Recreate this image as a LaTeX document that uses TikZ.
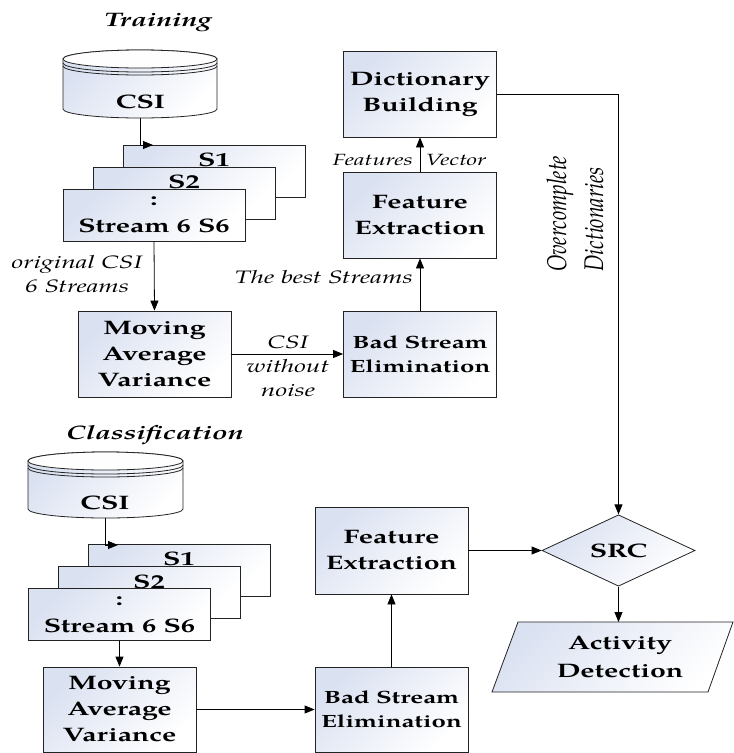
\documentclass[tikz,border=0pt]{standalone}
\usepackage{fontspec}
\setmainfont{texgyrepagella}[Extension=.otf, UprightFont=*-regular, BoldFont=*-bold, ItalicFont=*-italic, BoldItalicFont=*-bolditalic, FakeStretch=1.46]
\newfontfamily\condit{texgyrepagella-italic}[Extension=.otf, FakeStretch=0.78]
\usetikzlibrary{arrows.meta, shapes.geometric}
\definecolor{fillc}{RGB}{218,225,241}
\definecolor{edgec}{RGB}{35,35,35}
\newcommand\mybf{\bfseries\fontsize{19.5}{26}\selectfont}
\newcommand\mysmbf{\bfseries\fontsize{17.7}{24}\selectfont}
\newcommand\myit{\itshape\fontsize{18}{24}\selectfont}
\newcommand\mysmit{\itshape\fontsize{16.2}{22}\selectfont}
\newcommand\mytitle{\bfseries\itshape\fontsize{19.5}{24}\selectfont}
\begin{document}
\begin{tikzpicture}[x=1pt, y=-1pt,
  shadefill/.style={top color=fillc, bottom color=white, shading angle=45},
  box/.style={draw=edgec, line width=0.8pt, shadefill, align=center, inner sep=0pt, font=\mybf, minimum width=153pt, minimum height=86pt},
  stk/.style={draw=edgec, line width=0.8pt, shadefill, align=center, inner sep=0pt, font=\mybf, minimum width=182pt, minimum height=52pt},
  arr/.style={-{Triangle[length=10pt,width=8pt]}, line width=0.8pt, draw=black},
  lbl/.style={font=\myit, align=center, inner sep=0pt},
  ttl/.style={font=\mytitle, inner sep=0pt, anchor=base},
  stxt/.style={font=\mybf, inner sep=0pt, anchor=base}]
\useasboundingbox (0,0) rectangle (734,753);

% ---------------- Training ----------------
\node[ttl] (t1) at (158,26) {Training};

% cylinder
\path[shadefill, draw=edgec, line width=0.8pt] (63,59) -- (63,109) arc[start angle=180, end angle=360, x radius=77pt, y radius=9pt] -- (217,59) arc[start angle=0, end angle=180, x radius=77pt, y radius=9pt] -- cycle;
\draw[edgec, line width=0.8pt, fill=white!96!fillc] (140,59) ellipse [x radius=77pt, y radius=9pt];
\draw[edgec, line width=0.8pt] (63,63) arc[start angle=180, end angle=360, x radius=77pt, y radius=9pt];
\draw[edgec, line width=0.8pt] (63,66) arc[start angle=180, end angle=360, x radius=77pt, y radius=9pt];
\node[stxt] (csi1) at (140.5,108) {CSI};
\coordinate (csi1b) at (140,118);
\coordinate (s1tip) at (153,145);

% stacked streams
\node[stk] (s1a) at (214,171) {};
\node[stxt] (s1at) at (214,166) {S1};
\node[stk] (s1b) at (184,193) {};
\node[stxt] (s1bt) at (184,188) {S2};
\node[stk, font=\fontsize{19.5}{27}\bfseries\selectfont] (st1) at (154,215) {:\\Stream 6 S6};

\node[box] (mav1) at (154.5,354) {Moving\\Average\\Variance};
\node[box, font=\mysmbf] (bse1) at (420,354) {Bad Stream\\Elimination};
\node[box] (fe1) at (420,215) {Feature\\Extraction};
\node[box] (db1) at (420,94) {Dictionary\\Building};

\draw[arr] (csi1b) |- (s1tip);
\draw[arr] (st1.south) -- (mav1.north);
\draw[arr] (mav1.east) -- (bse1.west);
\draw[arr] (bse1.north) -- (fe1.south);
\draw[arr] (fe1.north) -- (db1.south);

\node[lbl] (l1) at (77,274) {original CSI\\6 Streams};
\node[lbl] (l2) at (288,366) {CSI\\without\\noise};
\node[lbl, anchor=base east] (l3) at (413,283) {The best Streams};
\node[lbl, font=\mysmit, anchor=base] (l4) at (409.5,165) {Features\hskip13pt Vector};

% ---------------- Classification ----------------
\node[ttl] (t2) at (155,439) {Classification};

\path[shadefill, draw=edgec, line width=0.8pt] (28,461) -- (28,509) arc[start angle=180, end angle=360, x radius=77.5pt, y radius=9pt] -- (183,461) arc[start angle=0, end angle=180, x radius=77.5pt, y radius=9pt] -- cycle;
\draw[edgec, line width=0.8pt, fill=white!96!fillc] (105.5,461) ellipse [x radius=77.5pt, y radius=9pt];
\draw[edgec, line width=0.8pt] (28,465) arc[start angle=180, end angle=360, x radius=77.5pt, y radius=9pt];
\draw[edgec, line width=0.8pt] (28,468) arc[start angle=180, end angle=360, x radius=77.5pt, y radius=9pt];
\node[stxt] (csi2) at (105,509) {CSI};
\coordinate (csi2b) at (105,518);
\coordinate (s2tip) at (118,545);

\node[stk] (s2a) at (179,570.5) {};
\node[stxt] (s2at) at (179,565) {S1};
\node[stk] (s2b) at (149,592.5) {};
\node[stxt] (s2bt) at (149,588) {S2};
\node[stk, font=\fontsize{19.5}{27}\bfseries\selectfont] (st2) at (119.5,614.5) {:\\Stream 6 S6};

\node[box, minimum height=85pt] (mav2) at (119.5,709.5) {Moving\\Average\\Variance};
\node[box, minimum height=85pt, font=\mysmbf] (bse2) at (391.5,709.5) {Bad Stream\\Elimination};
\node[box, minimum height=87pt] (fe2) at (391.5,550.5) {Feature\\Extraction};
\node[diamond, draw=edgec, line width=0.8pt, shadefill, inner sep=0pt, minimum width=153pt, minimum height=51pt, font=\mybf] (src) at (618.5,550.5) {SRC};

\path[shadefill, draw=edgec, line width=0.8pt] (518,622) -- (733,622) -- (708,692) -- (492,692) -- cycle;
\node[font=\fontsize{19.5}{28}\bfseries\selectfont, align=center, inner sep=0pt] (ad) at (620,657) {Activity\\Detection};
\coordinate (adtop) at (618.5,622);

\draw[arr] (csi2b) |- (s2tip);
\draw[arr] (st2.south) -- (mav2.north);
\draw[arr] (mav2.east) -- (bse2.west);
\draw[arr] (bse2.north) -- (fe2.south);
\draw[arr] (fe2.east) -- (src.west);
\draw[arr] (src.south) -- (adtop);
\draw[arr] (db1.east) -| (src.north);

\node[rotate=90, anchor=north west, align=left, inner sep=0pt, font=\condit\fontsize{27}{37}\selectfont] (oc) at (546.5,272) {Overcomplete\\Dictionaries};
\end{tikzpicture}
\end{document}
